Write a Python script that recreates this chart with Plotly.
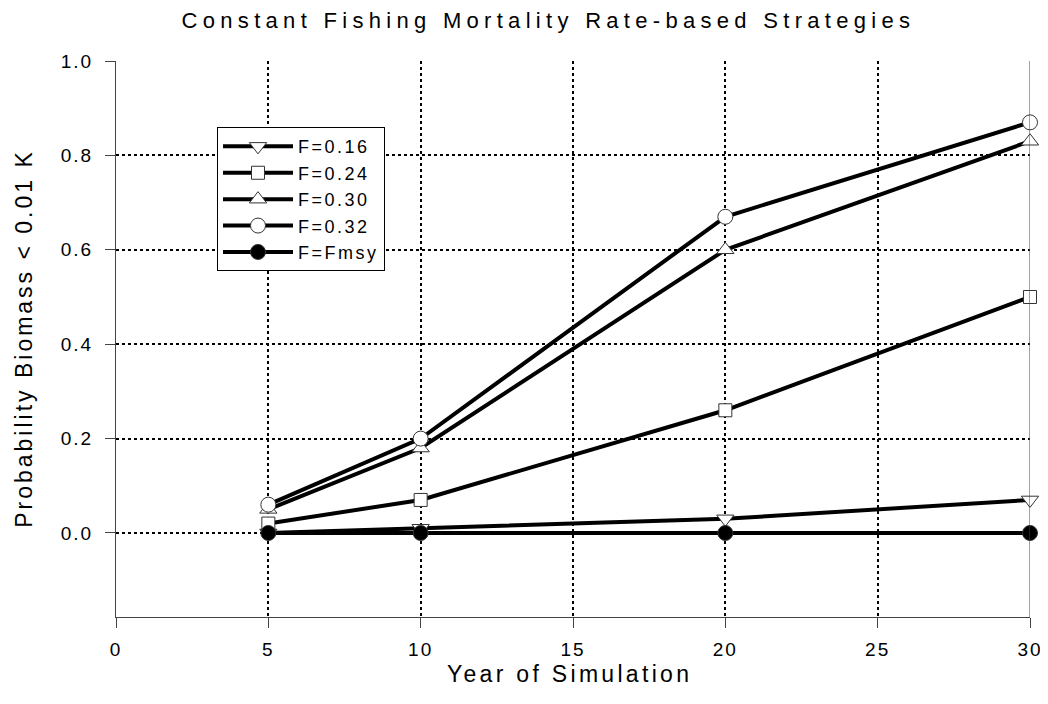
import plotly.graph_objects as go

years = [5, 10, 20, 30]
f016 = [0.00, 0.01, 0.03, 0.07]
f024 = [0.02, 0.07, 0.26, 0.50]
f030 = [0.05, 0.18, 0.60, 0.83]
f032 = [0.06, 0.20, 0.67, 0.87]
fmsy = [0.0, 0.0, 0.0, 0.0]

x_ticks = [0, 5, 10, 15, 20, 25, 30]
y_ticks = [0.0, 0.2, 0.4, 0.6, 0.8, 1.0]

series = [
    ("F=0.16", f016, "triangle-down", "white"),
    ("F=0.24", f024, "square", "white"),
    ("F=0.30", f030, "triangle-up", "white"),
    ("F=0.32", f032, "circle", "white"),
    ("F=Fmsy", fmsy, "circle", "black"),
]


def spaced(text, px):
    return '<span style="letter-spacing:%spx">%s</span>' % (px, text)


fig = go.Figure()
for name, vals, sym, fill in series:
    fig.add_trace(go.Scatter(
        x=years, y=vals, name=spaced(name, 2.5), mode="lines+markers",
        line=dict(color="black", width=4),
        marker=dict(symbol=sym, size=15 if sym != "square" else 13, color=fill,
                    line=dict(color="#333333", width=1)),
        cliponaxis=False,
    ))

font = "Liberation Sans, Arial, sans-serif"
fig.update_layout(
    width=1040, height=696,
    margin=dict(l=108, r=18, t=53, b=87, autoexpand=False),
    plot_bgcolor="white", paper_bgcolor="white",
    font=dict(family=font, color="black", size=19),
    title=dict(text=spaced("Constant Fishing Mortality Rate-based Strategies", 5.3),
               x=0.5197, xanchor="center", y=0.982, yanchor="middle",
               font=dict(size=22, family=font)),
    showlegend=True,
    legend=dict(x=0.1105, y=0.881, xanchor="left", yanchor="top",
                bgcolor="white", bordercolor="black", borderwidth=1,
                font=dict(size=18, family=font), itemwidth=70,
                tracegroupgap=0),
    xaxis=dict(range=[0, 30], tickvals=x_ticks,
               ticktext=[spaced(str(v), 2) for v in x_ticks],
               showline=True, linecolor="#444",
               linewidth=1, ticks="outside", ticklen=10, tickcolor="#444",
               ticklabelstandoff=5,
               showgrid=True, gridcolor="black", griddash="dot", gridwidth=1.5,
               zeroline=False, automargin=False, tickfont=dict(size=19)),
    yaxis=dict(range=[-0.178, 1.0], tickvals=y_ticks,
               ticktext=[spaced("%.1f" % v, 2) for v in y_ticks],
               showline=True, linecolor="#444", linewidth=1, ticks="outside",
               ticklen=10, tickcolor="#444", ticklabelstandoff=8,
               showgrid=True, gridcolor="black", griddash="dot", gridwidth=1.5,
               zeroline=False, automargin=False, tickfont=dict(size=19)),
    annotations=[
        dict(text=spaced("Year of Simulation", 3.3), xref="paper", yref="paper",
             x=0.4967, y=-0.1025, xanchor="center", yanchor="middle",
             showarrow=False, font=dict(size=23, family=font)),
        dict(text=spaced("Probability Biomass < 0.01 K", 3), xref="paper", yref="paper",
             x=-0.1007, y=0.502, xanchor="center", yanchor="middle", textangle=-90,
             showarrow=False, font=dict(size=23, family=font)),
    ],
)
fig.add_shape(type="line", xref="x", yref="paper", x0=30, x1=30, y0=0, y1=1,
              line=dict(color="#444", width=1))

fig.write_html("out.html")
